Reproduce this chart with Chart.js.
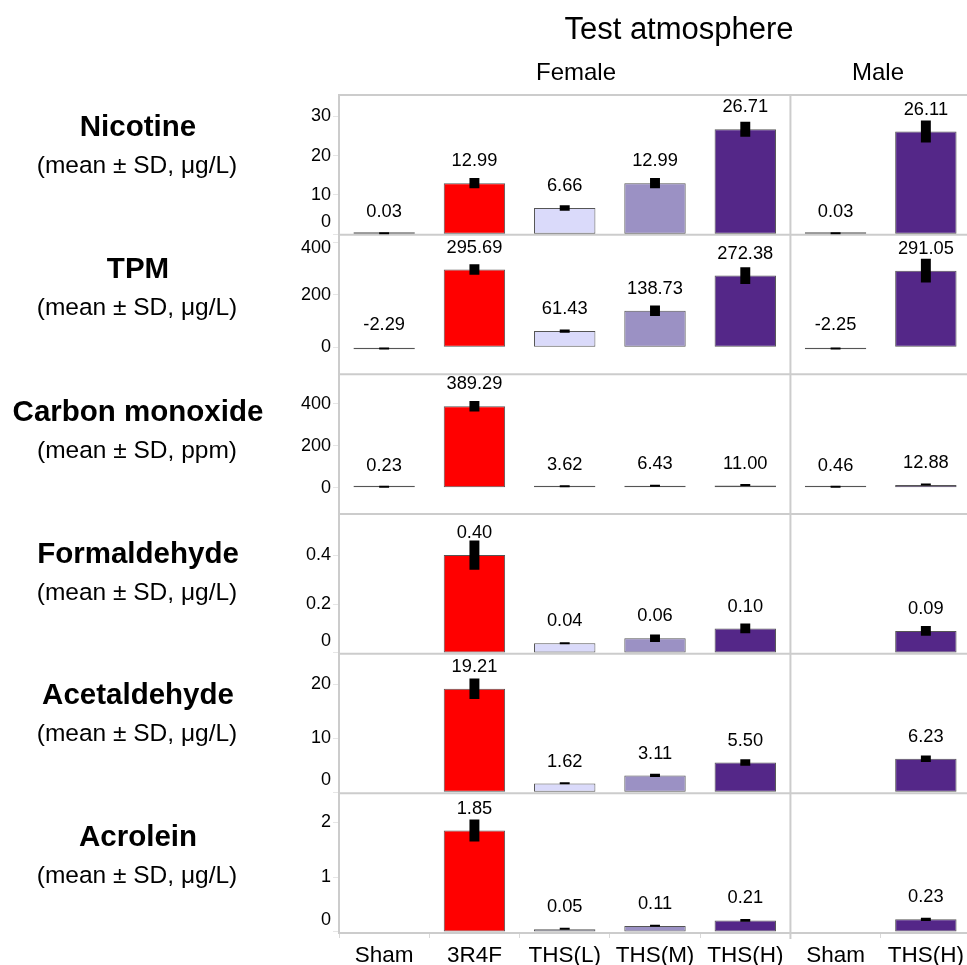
<!DOCTYPE html>
<html>
<head>
<meta charset="utf-8">
<script src="https://cdn.jsdelivr.net/npm/chart.js@4.4.1/dist/chart.umd.min.js"></script>
<style>
html, body { margin:0; padding:0; background:#fff; overflow:hidden; width:967px; height:965px; }
body { position:relative; font-family:"Liberation Sans", Arial, sans-serif; color:#000; }
#chart { position:absolute; left:0; top:0; }
.t { position:absolute; white-space:nowrap; transform:translate(-50%,-50%); line-height:1; }
.main { font-size:31px; }
.facet { font-size:24px; }
.rname { font-size:29.5px; font-weight:bold; }
.runit { font-size:24.5px; }
</style>
</head>
<body>
<canvas id="chart" width="971" height="965"></canvas>
<div class="t main" style="left:679px; top:28px;">Test atmosphere</div>
<div class="t facet" style="left:576px; top:72px;">Female</div>
<div class="t facet" style="left:878px; top:72px;">Male</div>
<script>
// categories: first 5 are the Female panel, last 2 the Male panel
var categories = ['Sham', '3R4F', 'THS(L)', 'THS(M)', 'THS(H)', 'Sham', 'THS(H)'];
var barColors = ['#666666', '#ff0000', '#dadafa', '#9b91c4', '#542788', '#666666', '#542788'];

var rowNames = ['Nicotine', 'TPM', 'Carbon monoxide', 'Formaldehyde', 'Acetaldehyde', 'Acrolein'];
var rowUnits = ['μg/L', 'μg/L', 'ppm', 'μg/L', 'μg/L', 'μg/L'];

var nicotineMean = [0.03, 12.99, 6.66, 12.99, 26.71, 0.03, 26.11];
var nicotineSD = [0.01, 1.3, 0.7, 1.3, 1.9, 0.01, 2.8];
var tpmMean = [-2.29, 295.69, 61.43, 138.73, 272.38, -2.25, 291.05];
var tpmSD = [1, 20, 6, 20, 32, 1, 45];
var coMean = [0.23, 389.29, 3.62, 6.43, 11.00, 0.46, 12.88];
var coSD = [0.3, 25, 1, 1.5, 2, 0.3, 2];
var formaldehydeMean = [null, 0.40, 0.04, 0.06, 0.10, null, 0.09];
var formaldehydeSD = [null, 0.06, 0.004, 0.015, 0.02, null, 0.02];
var acetaldehydeMean = [null, 19.21, 1.62, 3.11, 5.50, null, 6.23];
var acetaldehydeSD = [null, 1.9, 0.15, 0.3, 0.6, null, 0.6];
var acroleinMean = [null, 1.85, 0.05, 0.11, 0.21, null, 0.23];
var acroleinSD = [null, 0.2, 0.01, 0.015, 0.025, null, 0.03];

var yTicks = [[0, 10, 20, 30], [0, 200, 400], [0, 200, 400], [0, 0.2, 0.4], [0, 10, 20], [0, 1, 2]];
var yMin = [-0.1, -103, -125, -0.003, -0.2, -0.02];
var yMax = [35.4, 428, 541, 0.568, 25.7, 2.53];

var means = [nicotineMean, tpmMean, coMean, formaldehydeMean, acetaldehydeMean, acroleinMean];
var sds = [nicotineSD, tpmSD, coSD, formaldehydeSD, acetaldehydeSD, acroleinSD];

// row titles on the left
var titleY = [126, 268, 411, 553, 694, 836];
for (var r = 0; r < rowNames.length; r++) {
  var d1 = document.createElement('div');
  d1.className = 't rname';
  d1.style.left = '138px'; d1.style.top = titleY[r] + 'px';
  d1.textContent = rowNames[r];
  document.body.appendChild(d1);
  var d2 = document.createElement('div');
  d2.className = 't runit';
  d2.style.left = '137px'; d2.style.top = (titleY[r] + 39) + 'px';
  d2.textContent = '(mean ± SD, ' + rowUnits[r] + ')';
  document.body.appendChild(d2);
}

Chart.defaults.font.family = "'Liberation Sans', Arial, sans-serif";
Chart.defaults.color = '#000';

var datasets = [];
var scales = {
  x: {
    type: 'category',
    labels: categories,
    offset: true,
    grid: { display: true, drawOnChartArea: false, offset: true, tickLength: 5, color: '#d9d9d9' },
    border: { display: true, color: '#cccccc', width: 2 },
    ticks: { font: { size: 22.5 }, color: '#000', padding: 4, maxRotation: 0, autoSkip: false },
    afterFit: function (s) { s.height = 32; }
  }
};

means.forEach(function (m, r) {
  var id = 'y' + r;
  datasets.push({
    type: 'bar', yAxisID: id, order: 1,
    data: m,
    backgroundColor: barColors, borderColor: '#555555', borderWidth: 1,
    barPercentage: 0.68, categoryPercentage: 1, grouped: false, borderSkipped: false,
    minBarLength: 2
  });
  datasets.push({
    type: 'bar', yAxisID: id, order: 0,
    data: m.map(function (v, i) { return v == null ? null : [v - sds[r][i], v + sds[r][i]]; }),
    backgroundColor: '#000', borderWidth: 0,
    barPercentage: 0.11, categoryPercentage: 1, grouped: false, minBarLength: 2
  });
  var span = yMax[r] - yMin[r];
  var zeroAtBottom = -yMin[r] / span < 0.05;
  scales[id] = {
    type: 'linear', position: 'left', stack: 'rows', stackWeight: 1, weight: 10 - r,
    min: yMin[r], max: yMax[r],
    grid: { display: true, drawOnChartArea: false, tickLength: 6, color: '#e6e6e6' },
    border: { display: true, color: '#cccccc', width: 2 },
    ticks: {
      font: { size: 18, lineHeight: zeroAtBottom ? 1.33 : 0.7 }, color: '#000', padding: 2, autoSkip: false,
      callback: function (v) {
        var s = String(v);
        // labels at the panel edge are pushed inside the panel
        if (v === 0 && zeroAtBottom) return [s, ''];
        if ((yMax[r] - v) / span < 0.07) return ['', s];
        return s;
      }
    },
    afterBuildTicks: function (s) { s.ticks = yTicks[r].map(function (v) { return { value: v }; }); },
    afterFit: function (s) { s.width = 49; }
  };
});

var panelLines = {
  id: 'panelLines',
  beforeDatasetsDraw: function (chart) {
    var ctx = chart.ctx, a = chart.chartArea, xs = chart.scales.x;
    ctx.save();
    ctx.strokeStyle = '#cccccc';
    ctx.lineWidth = 2;
    for (var r = 0; r < means.length; r++) {
      var ys = chart.scales['y' + r];
      ctx.beginPath();
      ctx.moveTo(a.left, ys.top); ctx.lineTo(a.right, ys.top);
      ctx.stroke();
    }
    var xd = (xs.getPixelForValue(4) + xs.getPixelForValue(5)) / 2;
    ctx.beginPath();
    ctx.moveTo(xd, a.top); ctx.lineTo(xd, a.bottom + 6);
    ctx.stroke();
    ctx.restore();
  }
};

var valueLabels = {
  id: 'valueLabels',
  afterDatasetsDraw: function (chart) {
    var ctx = chart.ctx, xs = chart.scales.x;
    ctx.save();
    ctx.font = "18.3px 'Liberation Sans', Arial, sans-serif";
    ctx.fillStyle = '#000';
    ctx.textAlign = 'center';
    ctx.textBaseline = 'middle';
    means.forEach(function (m, r) {
      var ys = chart.scales['y' + r];
      m.forEach(function (v, i) {
        if (v == null) return;
        var x = xs.getPixelForValue(i);
        var y = ys.getPixelForValue(Math.max(v, 0)) - 22;
        ctx.fillText(v.toFixed(2), x, y);
      });
    });
    ctx.restore();
  }
};

new Chart(document.getElementById('chart'), {
  type: 'bar',
  data: { labels: categories, datasets: datasets },
  options: {
    responsive: false,
    animation: false,
    layout: { padding: { top: 95, left: 290, right: 0, bottom: 0 } },
    plugins: { legend: { display: false }, tooltip: { enabled: false } },
    scales: scales
  },
  plugins: [panelLines, valueLabels]
});
</script>
</body>
</html>
